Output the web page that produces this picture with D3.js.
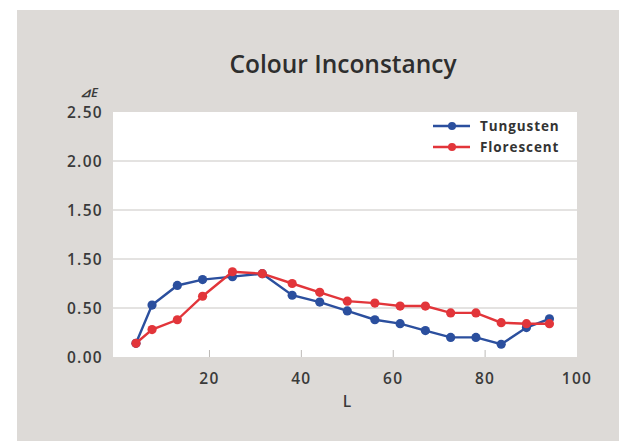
<!DOCTYPE html>
<html><head><meta charset="utf-8">
<script src="https://cdn.jsdelivr.net/npm/d3@7"></script>
<style>html,body{margin:0;padding:0;background:#fff;}svg{display:block;}</style>
</head><body>
<script>
const lValues = [4, 7.5, 13, 18.5, 25, 31.5, 38, 44, 50, 56, 61.5, 67, 72.5, 78, 83.5, 89, 94];
const tungsten = [0.14, 0.53, 0.73, 0.79, 0.82, 0.85, 0.63, 0.56, 0.47, 0.38, 0.34, 0.27, 0.20, 0.20, 0.13, 0.30, 0.39];
const florescent = [0.14, 0.28, 0.38, 0.62, 0.87, 0.85, 0.75, 0.66, 0.57, 0.55, 0.52, 0.52, 0.45, 0.45, 0.35, 0.34, 0.34];
const yTickValues = [0, 0.5, 1.0, 1.5, 2.0, 2.5];
const yTickLabels = ["0.00", "0.50", "1.50", "1.50", "2.00", "2.50"];
const xTickValues = [20, 40, 60, 80, 100];
const seriesNames = ["Tungusten", "Florescent"];
const seriesColors = ["#2b4f9e", "#e2353a"];

(function () {
const W = 619, H = 441;
const svg = d3.select("body").append("svg").attr("width", W).attr("height", H);
svg.append("rect").attr("x", 17).attr("y", 10).attr("width", W - 17).attr("height", H - 10).attr("fill", "#dddad7");

const pL = 113, pR = 577, pT = 112, pB = 357;
const x = d3.scaleLinear().domain([-1, 100]).range([pL, pR]);
const y = d3.scaleLinear().domain([0, 2.5]).range([pB, pT]);

svg.append("rect").attr("x", pL).attr("y", pT).attr("width", pR - pL).attr("height", pB - pT).attr("fill", "#ffffff");

svg.append("g").selectAll("line").data(yTickValues.filter(v => v > 0 && v < 2.5)).join("line")
  .attr("x1", pL).attr("x2", pR).attr("y1", d => y(d)).attr("y2", d => y(d))
  .attr("stroke", "#c9c6c3").attr("stroke-width", 1);

svg.append("g").selectAll("line").data(xTickValues.filter(v => v < 100)).join("line")
  .attr("x1", d => x(d)).attr("x2", d => x(d)).attr("y1", pB).attr("y2", pB - 7)
  .attr("stroke", "#bdbab7").attr("stroke-width", 1);

const font = "'Open Sans', 'Noto Sans', sans-serif";
svg.append("g").selectAll("text").data(yTickValues).join("text")
  .attr("x", 103).attr("y", d => y(d)).attr("dy", "0.36em").attr("text-anchor", "end")
  .attr("font-family", font).attr("font-size", 15.5).attr("font-weight", 600).attr("fill", "#3a3a3a")
  .attr("letter-spacing", 1.3)
  .text((d, i) => yTickLabels[i]);
svg.append("g").selectAll("text").data(xTickValues).join("text")
  .attr("x", d => x(d)).attr("y", 378).attr("dy", "0.36em").attr("text-anchor", "middle")
  .attr("font-family", font).attr("font-size", 15.5).attr("font-weight", 600).attr("fill", "#3a3a3a")
  .attr("letter-spacing", 1.3)
  .text(d => d);

svg.append("text").attr("x", 347).attr("y", 401).attr("dy", "0.36em").attr("text-anchor", "middle")
  .attr("font-family", font).attr("font-size", 15.5).attr("font-weight", 600).attr("fill", "#3a3a3a").text("L");
svg.append("text").attr("x", 89).attr("y", 97).attr("text-anchor", "middle")
  .attr("font-family", font).attr("font-size", 13).attr("font-style", "italic").attr("font-weight", 600).attr("fill", "#3a3a3a").text("⊿E");

svg.append("text").attr("x", 343).attr("y", 64).attr("dy", "0.36em").attr("text-anchor", "middle")
  .attr("font-family", font).attr("font-size", 24.5).attr("font-weight", 600).attr("fill", "#2e2e2e").text("Colour Inconstancy");

const seriesData = [tungsten, florescent];
const line = d3.line().x((d, i) => x(lValues[i])).y(d => y(d));
seriesData.forEach((s, k) => {
  const g = svg.append("g");
  g.append("path").datum(s).attr("d", line).attr("fill", "none")
    .attr("stroke", seriesColors[k]).attr("stroke-width", 2.4);
  g.selectAll("circle").data(s).join("circle")
    .attr("cx", (d, i) => x(lValues[i])).attr("cy", d => y(d)).attr("r", 4.6)
    .attr("fill", seriesColors[k]);
});

const lg = svg.append("g");
seriesNames.forEach((n, k) => {
  const ly = 126 + k * 21;
  lg.append("line").attr("x1", 433).attr("x2", 470).attr("y1", ly).attr("y2", ly)
    .attr("stroke", seriesColors[k]).attr("stroke-width", 2.4);
  lg.append("circle").attr("cx", 452).attr("cy", ly).attr("r", 4).attr("fill", seriesColors[k]);
  lg.append("text").attr("x", 480).attr("y", ly).attr("dy", "0.36em")
    .attr("font-family", font).attr("font-size", 13.5).attr("font-weight", 700).attr("fill", "#333")
    .attr("letter-spacing", 0.9).text(n);
});
})();
</script>
</body></html>
